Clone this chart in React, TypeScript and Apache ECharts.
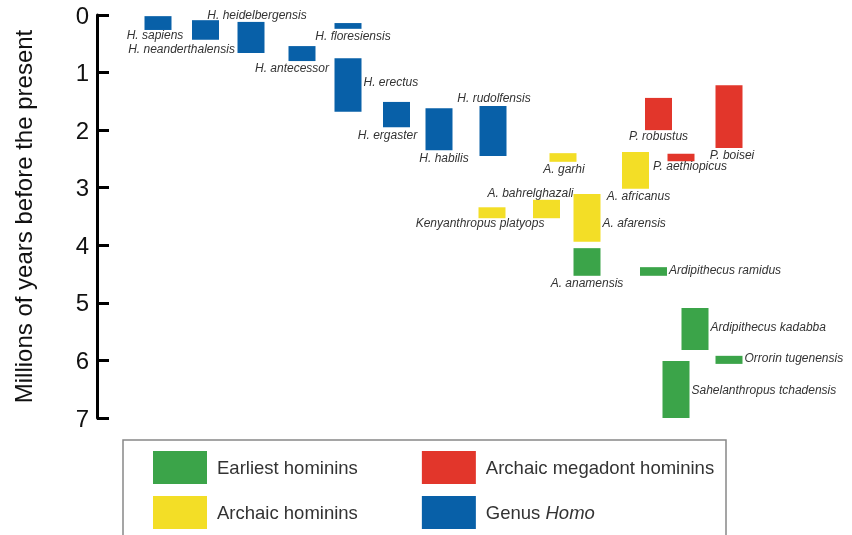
import React, { useEffect, useRef } from "react";
import * as echarts from "echarts";

// ---- data ----
const groupNames = ["Earliest hominins", "Archaic hominins", "Archaic megadont hominins", "Genus Homo"];
const groupColors = ["#3ba449", "#f3de26", "#e2362b", "#0860a8"];

const speciesNames = [
  "H. sapiens", "H. neanderthalensis", "H. heidelbergensis", "H. antecessor", "H. floresiensis",
  "H. erectus", "H. ergaster", "H. habilis", "H. rudolfensis", "P. robustus", "P. boisei",
  "P. aethiopicus", "A. garhi", "A. africanus", "A. bahrelghazali", "Kenyanthropus platyops",
  "A. afarensis", "A. anamensis", "Ardipithecus ramidus", "Ardipithecus kadabba",
  "Orrorin tugenensis", "Sahelanthropus tchadensis",
];
const speciesGroup = [3, 3, 3, 3, 3, 3, 3, 3, 3, 2, 2, 2, 1, 1, 1, 1, 1, 0, 0, 0, 0, 0];
const speciesColumn = [158, 205.5, 251, 302, 348, 348, 396.5, 439, 493, 658.5, 729, 681, 563, 635.5, 546.5, 492, 587, 587, 653.5, 695, 729, 676];
const youngestMa = [0.02, 0.09, 0.12, 0.54, 0.14, 0.75, 1.51, 1.62, 1.58, 1.44, 1.22, 2.41, 2.40, 2.38, 3.21, 3.34, 3.11, 4.05, 4.38, 5.09, 5.92, 6.01];
const oldestMa = [0.26, 0.43, 0.66, 0.80, 0.24, 1.68, 1.95, 2.35, 2.45, 2.0, 2.31, 2.54, 2.55, 3.02, 3.53, 3.53, 3.94, 4.53, 4.53, 5.82, 6.06, 7.0];
const yTicks = [0, 1, 2, 3, 4, 5, 6, 7];

// ---- label layout (placement, dx, dy) ----
const labelLayout: [string, number, number][] = [
  ["below", -3, -2], ["below", -24, 2], ["above", 6, 0], ["below", -10, 0], ["below", 5, 0],
  ["right", 0, -3], ["below", -9, 1], ["below", 5, 1], ["above", 1, -1], ["below", 0, -1],
  ["below", 3, 0], ["below", 9, -2], ["below", 1, 0], ["below", 3, 0], ["above", -16, 0],
  ["below", -12, -2], ["right", 0, 5], ["below", 0, 0], ["right", 0, -1], ["right", 0, -2],
  ["right", 0, -2], ["right", 0, 0],
];

const FONT = '"Liberation Sans", Arial, Helvetica, sans-serif';

export default function App() {
  const ref = useRef<HTMLDivElement>(null);
  useEffect(() => {
    if (!ref.current) return;
    const chart = echarts.init(ref.current, null, { renderer: "svg" });

    const renderItem = (params: any, api: any) => {
      const idx = api.value(3);
      const x = api.value(0);
      const p0 = api.coord([x, api.value(1)]);
      const p1 = api.coord([x, api.value(2)]);
      const w = api.size([27, 0])[0];
      const left = p0[0] - w / 2;
      const top = p0[1];
      const bottom = p1[1];
      const [place, dx, dy] = labelLayout[idx];
      let tx = p0[0] + dx;
      let ty = bottom + 7 + dy;
      let align = "center";
      if (place === "above") ty = top - 7 + dy;
      if (place === "right") {
        tx = left + w + 2 + dx;
        ty = (top + bottom) / 2 + dy;
        align = "left";
      }
      return {
        type: "group",
        children: [
          {
            type: "rect",
            shape: { x: left, y: top, width: w, height: bottom - top },
            style: { fill: groupColors[speciesGroup[idx]] },
          },
          {
            type: "text",
            x: tx,
            y: ty,
            style: {
              text: speciesNames[idx],
              fill: "#333",
              fontSize: 12,
              fontStyle: "italic",
              fontFamily: FONT,
              align,
              verticalAlign: "middle",
            },
          },
        ],
      };
    };

    const series = groupNames.map((g, gi) => ({
      type: "custom",
      name: g,
      renderItem,
      itemStyle: { color: groupColors[gi] },
      encode: { x: 0, y: [1, 2] },
      data: speciesNames
        .map((_, i) => i)
        .filter((i) => speciesGroup[i] === gi)
        .map((i) => [speciesColumn[i], youngestMa[i], oldestMa[i], i]),
    }));

    const legendCommon = {
      left: 153,
      orient: "horizontal",
      icon: "rect",
      padding: 0,
      itemWidth: 54,
      itemHeight: 33,
      itemGap: 64,
      selectedMode: false,
      textStyle: {
        fontSize: 18.5,
        color: "#333",
        fontFamily: FONT,
        padding: [0, 0, 0, 5],
        rich: { i: { fontStyle: "italic", fontSize: 18.5, color: "#333", fontFamily: FONT } },
      },
      formatter: (name: string) => (name === "Genus Homo" ? "Genus {i|Homo}" : name),
    };

    chart.setOption({
      animation: false,
      grid: { left: 97, right: 0, top: 15, bottom: 117 },
      xAxis: { type: "value", min: 97, max: 852, show: false },
      yAxis: {
        type: "value",
        inverse: true,
        min: yTicks[0],
        max: yTicks[yTicks.length - 1],
        interval: 1,
        name: "Millions of years before the present",
        nameLocation: "middle",
        nameGap: 62,
        nameTextStyle: { fontSize: 24, color: "#111", fontFamily: FONT },
        axisLine: { show: true, lineStyle: { color: "#000", width: 3 } },
        axisTick: { show: true, inside: true, length: 12, lineStyle: { color: "#000", width: 3 } },
        axisLabel: { fontSize: 24, color: "#111", margin: 8, fontFamily: FONT },
        splitLine: { show: false },
      },
      legend: [
        { ...legendCommon, top: 451, data: [groupNames[0], groupNames[2]] },
        { ...legendCommon, top: 496, data: [groupNames[1], groupNames[3]] },
      ],
      graphic: [
        {
          type: "rect",
          shape: { x: 123, y: 440, width: 603, height: 130 },
          style: { fill: "none", stroke: "#888", lineWidth: 1.5 },
          silent: true,
        },
      ],
      series,
    });
    return () => chart.dispose();
  }, []);
  return <div ref={ref} style={{ position: "fixed", left: 0, top: 0, width: 852, height: 535 }} />;
}
